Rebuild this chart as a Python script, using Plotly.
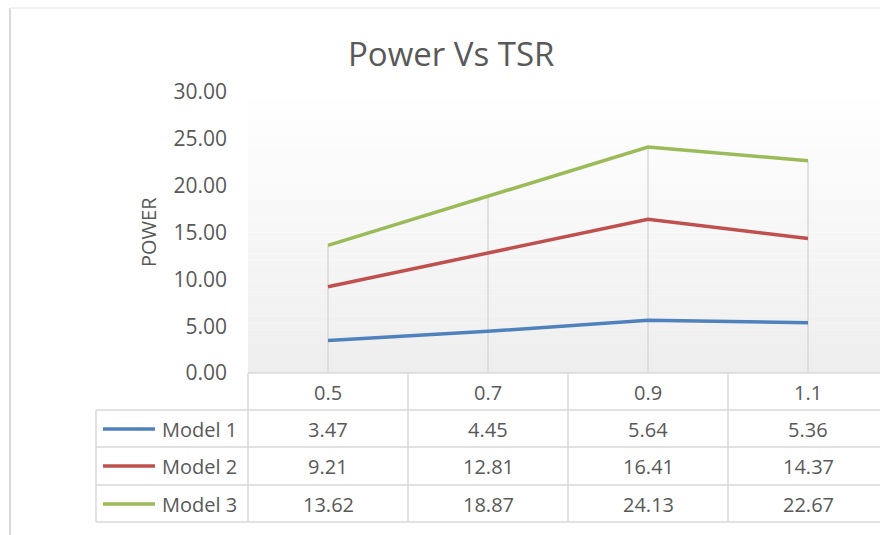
import plotly.graph_objects as go

# ---- data ----
tsr = ["0.5", "0.7", "0.9", "1.1"]
series_names = ["Model 1", "Model 2", "Model 3"]
model1 = [3.47, 4.45, 5.64, 5.36]
model2 = [9.21, 12.81, 16.41, 14.37]
model3 = [13.62, 18.87, 24.13, 22.67]
y_ticks = [0, 5, 10, 15, 20, 25, 30]

colors = ["#4f81bd", "#c0504d", "#9bbb59"]
OFF = 0
W, H = 880, 535
FONT = "Open Sans"
TXT = "#595959"
GRID = "#d9d9d9"


def px_y(py):
    return (H - (py - OFF)) / H


def px_x(px):
    return (px - OFF) / W


fig = go.Figure()
idx = list(range(len(tsr)))
for name, vals, c in zip(series_names, [model1, model2, model3], colors):
    fig.add_trace(go.Scatter(x=idx, y=vals, mode="lines", name=name,
                             line=dict(color=c, width=3.5), showlegend=False))

shapes = []
# plot-area gradient (white top -> light gray bottom)
nb = 40
for i in range(nb):
    y0 = 30 * i / nb
    y1 = 30 * (i + 1) / nb
    t = (i + 0.5) / nb  # 0 bottom, 1 top
    v = int(round(238 + (255 - 238) * t))
    shapes.append(dict(type="rect", xref="x domain", yref="y", x0=0, x1=1,
                       y0=y0, y1=y1, fillcolor=f"rgb({v},{v},{v})",
                       line=dict(width=0), layer="below"))

# drop lines from the highest series to the axis
all_series = [model1, model2, model3]
for i in idx:
    top = max(s[i] for s in all_series)
    shapes.append(dict(type="line", xref="x", yref="y", x0=i, x1=i, y0=0, y1=top,
                       line=dict(color=GRID, width=1.5), layer="below"))

# chart outer border (left + top)
shapes.append(dict(type="line", xref="paper", yref="paper",
                   x0=px_x(10), x1=px_x(10), y0=px_y(8), y1=0,
                   line=dict(color="#d9d9d9", width=2)))
shapes.append(dict(type="line", xref="paper", yref="paper",
                   x0=px_x(10), x1=1, y0=px_y(8), y1=px_y(8),
                   line=dict(color="#eeeeee", width=1.5)))

# data table lines
tl = dict(color=GRID, width=1.5)
row_lines = [373, 410, 447, 485, 522]
for i, yy in enumerate(row_lines):
    x0 = 248 if i == 0 else 96
    shapes.append(dict(type="line", xref="paper", yref="paper",
                       x0=px_x(x0), x1=1, y0=px_y(yy), y1=px_y(yy), line=tl))
for xx in [248, 408, 568, 728]:
    shapes.append(dict(type="line", xref="paper", yref="paper",
                       x0=px_x(xx), x1=px_x(xx), y0=px_y(373), y1=px_y(522), line=tl))
shapes.append(dict(type="line", xref="paper", yref="paper",
                   x0=px_x(96), x1=px_x(96), y0=px_y(410), y1=px_y(522), line=tl))

# legend keys in table
row_centers = [429, 466, 504]
for c, yc in zip(colors, row_centers):
    shapes.append(dict(type="line", xref="paper", yref="paper",
                       x0=px_x(103), x1=px_x(155), y0=px_y(yc), y1=px_y(yc),
                       line=dict(color=c, width=3.5)))

annotations = []
tf = dict(family=FONT, size=20, color=TXT)
# header row (categories)
for i, cat in zip(idx, tsr):
    annotations.append(dict(x=i, xref="x", y=px_y(392), yref="paper",
                            text=cat, showarrow=False, xanchor="center",
                            yanchor="middle", font=tf))
# value rows
for name, vals, yc in zip(series_names, [model1, model2, model3], row_centers):
    annotations.append(dict(x=px_x(160), xref="paper", y=px_y(yc), yref="paper",
                            text=name, showarrow=False, xanchor="left",
                            yanchor="middle", font=tf))
    for i, v in zip(idx, vals):
        annotations.append(dict(x=i, xref="x", y=px_y(yc), yref="paper",
                                text=f"{v:.2f}", showarrow=False,
                                xanchor="center", yanchor="middle", font=tf))

# title
annotations.append(dict(x=px_x(451), xref="paper", y=px_y(54), yref="paper",
                        text="Power Vs TSR", showarrow=False,
                        xanchor="center", yanchor="middle",
                        font=dict(family=FONT, size=33, color=TXT)))
# y axis title
annotations.append(dict(x=px_x(148), xref="paper", y=px_y(232), yref="paper",
                        text="POWER", showarrow=False, textangle=-90,
                        xanchor="center", yanchor="middle",
                        font=dict(family=FONT, size=20, color=TXT)))

fig.update_layout(
    width=W, height=H,
    margin=dict(l=0, r=0, t=0, b=0, pad=0, autoexpand=False),
    paper_bgcolor="white",
    plot_bgcolor="rgba(0,0,0,0)",
    shapes=shapes,
    annotations=annotations,
    xaxis=dict(domain=[px_x(248), 1],
               range=[-0.5, -0.5 + (W + OFF - 248) / 160],
               showgrid=False, showticklabels=False, ticks="", zeroline=False,
               showline=False, fixedrange=True, automargin=False),
    yaxis=dict(domain=[px_y(373), px_y(92)], range=[0, 30],
               tickvals=y_ticks, ticktext=[f"{v:.2f}" for v in y_ticks],
               showgrid=False, zeroline=False, showline=False,
               ticks="", ticklabelstandoff=20, automargin=False,
               tickfont=dict(family=FONT, size=21, color=TXT),
               fixedrange=True),
    hovermode=False,
)

fig.write_html(
    "out.html",
    config={"displayModeBar": False},
    post_script="document.body.style.margin='0';"
                "document.documentElement.style.overflow='hidden';"
                "document.body.style.overflow='hidden';",
)
